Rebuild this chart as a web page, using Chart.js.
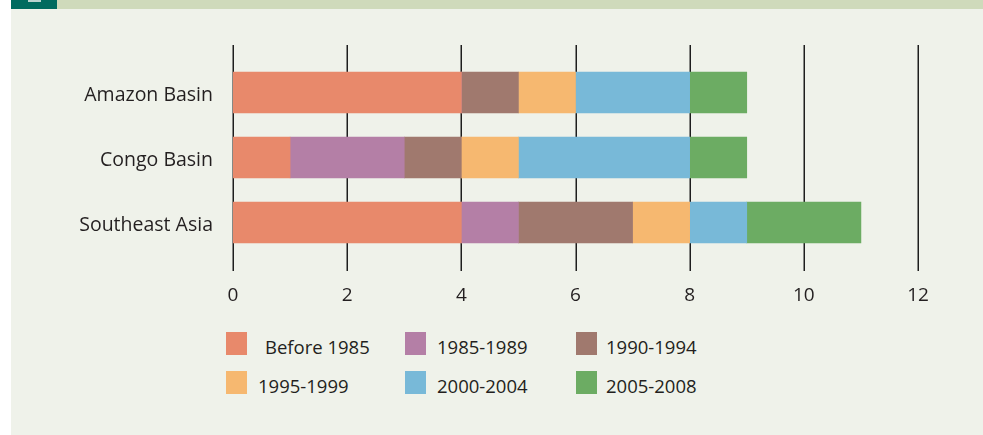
<!DOCTYPE html>
<html>
<head>
<meta charset="utf-8">
<script src="https://cdn.jsdelivr.net/npm/chart.js@4"></script>
<style>
    html, body { margin: 0; padding: 0; background: #ffffff; }
    body { width: 983px; height: 435px; position: relative; overflow: hidden; font-family: "Open Sans", sans-serif; }
    .panel { position: absolute; left: 11px; top: 0; width: 972px; height: 435px; background: #eff2ea; }
    .band { position: absolute; left: 46px; top: 0; right: 0; height: 9px; background: #cfdabb; }
    .tab { position: absolute; left: 0; top: 0; width: 46px; height: 9px; background: #006b5f; }
    .tab-icon { position: absolute; left: 17px; top: 0; width: 13px; height: 2px; background: #b9d3cf; }
    .chart-box { position: absolute; left: 11px; top: 9px; width: 972px; height: 300px; }
    .legend-item { position: absolute; height: 24px; }
    .legend-swatch { position: absolute; left: 0; top: 0; width: 21px; height: 23px; }
    .legend-text { position: absolute; top: 3px; font-size: 18.5px; color: #231f20; white-space: pre; line-height: 24px; }
</style>
</head>
<body>
<div class="panel">
    <div class="tab"><div class="tab-icon"></div></div>
    <div class="band"></div>
</div>
<div class="chart-box"><canvas id="deforestChart" width="972" height="300"></canvas></div>
<div id="legend"></div>

<script>
const regions = ['Amazon Basin', 'Congo Basin', 'Southeast Asia'];
const periods = ['Before 1985', '1985-1989', '1990-1994', '1995-1999', '2000-2004', '2005-2008'];
const periodColors = ['#e8896b', '#b47fa6', '#a0796e', '#f6b870', '#78b9d8', '#6cac63'];

// values per period, in region order
const before1985 = [4, 1, 4];
const p1985 = [0, 2, 1];
const p1990 = [1, 1, 2];
const p1995 = [1, 1, 1];
const p2000 = [2, 3, 1];
const p2005 = [1, 1, 2];
const xTicks = [0, 2, 4, 6, 8, 10, 12];

const seriesValues = [before1985, p1985, p1990, p1995, p2000, p2005];

const gridPlugin = {
    id: 'extendedGrid',
    beforeDatasetsDraw(chart) {
        const ctx = chart.ctx;
        const area = chart.chartArea;
        const xScale = chart.scales.x;
        ctx.save();
        ctx.strokeStyle = '#1e1e1e';
        ctx.lineWidth = 1.5;
        xTicks.forEach(t => {
            const x = Math.round(xScale.getPixelForValue(t)) + 0.25;
            ctx.beginPath();
            ctx.moveTo(x, area.top - 15);
            ctx.lineTo(x, area.bottom + 16);
            ctx.stroke();
        });
        ctx.restore();
    }
};

const ctx = document.getElementById('deforestChart').getContext('2d');
const chart = new Chart(ctx, {
    type: 'bar',
    data: {
        labels: regions,
        datasets: periods.map((p, i) => ({
            label: p,
            data: seriesValues[i],
            backgroundColor: periodColors[i],
            borderWidth: 0,
            barThickness: 41
        }))
    },
    options: {
        indexAxis: 'y',
        responsive: false,
        animation: false,
        devicePixelRatio: 1,
        layout: { padding: { top: 51, right: 65, left: 0, bottom: 0 } },
        plugins: { legend: { display: false }, tooltip: { enabled: false } },
        scales: {
            x: {
                stacked: true,
                min: 0,
                max: 12,
                afterBuildTicks: scale => { scale.ticks = xTicks.map(v => ({ value: v })); },
                afterFit: scale => { scale.height = 54; },
                grid: { display: false, drawTicks: false },
                border: { display: false },
                ticks: { padding: 29, color: '#231f20', font: { family: 'Open Sans', size: 19 } }
            },
            y: {
                stacked: true,
                afterFit: scale => { scale.width = 222; },
                grid: { display: false, drawTicks: false },
                border: { display: false },
                ticks: { padding: 20, labelOffset: 3, color: '#231f20', font: { family: 'Open Sans', size: 19.5 } }
            }
        }
    },
    plugins: [gridPlugin]
});

// legend in a 3 column grid, built from the chart's datasets
const legendPos = [[226, 332], [405, 332], [576, 332], [226, 371], [405, 371], [576, 371]];
const textOffset = [39, 32, 30, 32, 32, 30];
const legend = document.getElementById('legend');
chart.data.datasets.forEach((ds, i) => {
    const item = document.createElement('div');
    item.className = 'legend-item';
    item.style.left = legendPos[i][0] + 'px';
    item.style.top = legendPos[i][1] + 'px';
    item.innerHTML = `<div class="legend-swatch" style="background:${ds.backgroundColor}"></div>` +
        `<div class="legend-text" style="left:${textOffset[i]}px">${ds.label}</div>`;
    legend.appendChild(item);
});
</script>
</body>
</html>
